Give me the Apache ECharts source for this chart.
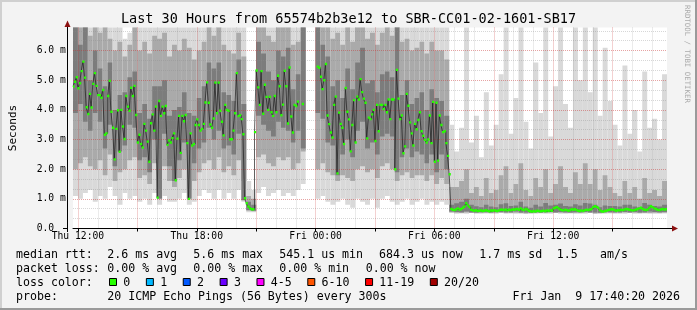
<!DOCTYPE html>
<html><head><meta charset="utf-8">
<script src="https://cdn.jsdelivr.net/npm/echarts@6/dist/echarts.min.js"></script>
<style>html,body{margin:0;padding:0;background:#f3f3f3}#c{width:697px;height:310px}</style>
</head><body><div id="c"></div>
<script>
// ---------------- data ----------------
const titleText = 'Last 30 Hours from 65574b2b3e12 to SBR-CC01-02-1601-SB17';
const startMinute = 705;      // Thu 11:45, minutes since Thu 00:00
const stepMinutes = 5;        // one category per 5 min sample
const stepCount = 360;
const xTickLabels = ['Thu 12:00', 'Thu 18:00', 'Fri 00:00', 'Fri 06:00', 'Fri 12:00'];
const yTickLabels = ['0.0', '1.0 m', '2.0 m', '3.0 m', '4.0 m', '5.0 m', '6.0 m'];
const yMax = 6.78;

// median rtt (ms), one value per 5-minute step
const medianMs = [
 4.79,4.95,5.10,4.73,4.9,5.31,5.63,5.09,4.09,3.86,4.54,4.08,4.88,5.24,4.81,4.5,4.5,4.41,4.67,3.16,
 3.21,4.47,4.98,3.94,3.4,2.33,3.36,3.99,2.59,4.0,3.44,3.02,4.47,4.11,3.97,4.75,4.47,4.81,3.83,2.9,
 3.16,2.85,2.73,3.53,3.3,2.93,2.25,3.55,3.85,3.3,4.11,1.04,4.3,3.8,4.11,3.89,4.13,2.82,2.97,2.9,
 3.05,3.21,1.63,3.03,3.8,2.55,3.8,3.62,3.83,2.88,1.0,3.21,2.8,2.85,3.49,3.68,3.49,3.3,3.36,3.53,
 4.25,4.93,4.24,3.51,3.4,3.71,4.92,3.89,4.92,3.97,3.6,3.14,4.17,4.0,3.97,3.01,3.01,3.3,3.89,5.24,
 3.79,3.82,3.69,3.18,1.02,0.85,0.74,0.68,0.65,0.65,3.25,5.33,4.76,4.17,5.31,3.87,4.85,4.44,4.0,4.44,
 3.92,3.8,4.47,3.92,5.15,4.8,3.82,4.18,5.32,4.8,3.54,5.43,3.78,3.24,4.17,4.13,4.28,
 null,null,4.2,null,null,null,null,null,null,null,null,
 5.46,5.42,5.12,4.7,5.0,5.55,3.81,3.52,3.24,3.07,
 4.17,4.45,1.86,3.91,3.53,3.4,2.85,4.74,3.94,3.68,
 2.6,3.49,4.33,2.9,4.45,4.35,5.04,4.6,4.38,4.24,
 3.04,3.74,3.69,3.85,4.0,2.95,4.17,3.28,4.17,4.17,
 4.03,4.17,3.92,4.35,3.69,4.35,4.35,2.0,5.35,4.38,
 3.69,3.81,2.54,2.77,4.54,4.14,3.58,3.21,2.8,3.53,
 3.35,3.66,3.92,3.28,3.13,2.99,2.9,3.0,3.81,2.88,
 4.27,2.25,4.24,2.29,3.81,3.49,3.25,3.28,2.88,2.45,
 1.83,
 0.66,0.63,0.62,0.65,0.68,0.64,0.66,
 0.70,0.74,0.85,0.78,0.72,
 0.63,0.61,0.60,0.62,0.59,0.60,0.61,
 0.59,0.60,0.62,0.60,0.58,0.61,0.60,0.62,0.60,0.59,0.61,0.63,
 0.63,0.62,0.64,0.61,0.63,0.62,0.64,0.63,
 0.65,0.66,0.63,0.68,0.64,0.62,0.66,0.64,
 0.60,0.58,0.57,0.59,0.57,0.60,0.59,0.58,
 0.59,0.60,0.58,0.61,0.59,0.62,0.60,
 0.68,0.70,0.72,0.68,0.64,
 0.62,0.61,0.63,0.62,0.60,0.62,0.65,0.63,
 0.65,0.62,0.60,0.59,0.61,0.59,0.62,0.63,
 0.62,0.64,0.66,0.72,0.75,0.73,0.70,
 0.62,0.58,0.57,0.59,0.60,0.62,
 0.63,0.65,0.64,0.62,0.60,0.62,0.61,0.63,0.62,
 0.64,0.66,0.65,0.63,0.62,0.61,0.62,
 0.64,0.66,0.68,0.70,0.66,0.63,0.62,
 0.64,0.70,0.75,0.72,0.68,0.66,
 0.63,0.62,0.64,0.66,0.64,0.65
];

// smoke bands (ms), one value per 15-minute block (3 steps)
const outerLow = [
 1.1,1.0,1.2,1.3,0.9,1.1,1.0,1.4,1.1,0.8, 1.2,1.0,1.1,0.9,1.0,0.8,1.2,0.8,1.1,0.9,
 0.9,1.0,1.2,0.8,0.9,1.1,1.3,1.2,1.0,1.3, 1.0,1.2,1.0,1.3,0.9,0.55,0.55,1.2,1.4,1.1,
 1.2,1.3,1.1,1.2,1.1,1.3,1.5, null,null,
 1.0,1.1,0.9,0.8,0.9,1.0,0.8,0.7,1.0,0.9, 0.8,1.0,0.7,1.0,1.1,0.9,0.8,0.9,1.0,0.8, 0.9,1.0,0.8,0.9,0.8,0.9,0.8,
 0.52,
 0.5,0.51,0.5,0.52,0.5,0.5,0.51,0.5,0.5,0.52, 0.5,0.51,0.5,0.5,0.5,0.49,0.5,0.51,0.5,0.5,
 0.52,0.5,0.5,0.51,0.5,0.5,0.5,0.52,0.5,0.49, 0.5,0.51,0.5,0.5,0.5,0.52,0.5,0.5,0.51,0.5, 0.5,0.5,0.51
];
const outerHigh = [
 6.8,6.8,6.8,6.8,6.8,6.8,6.8,6.8,6.8,6.8, 6.4,6.6,6.8,6.8,6.8,6.8,6.8,6.8,6.8,6.8,
 6.8,6.8,6.8,6.8,6.8,6.8,6.8,6.8,6.8,6.8, 6.8,6.8,6.8,6.8,6.8,1.6,1.3,6.8,6.8,6.8,
 6.8,6.8,6.8,6.8,6.8,6.8,6.8, null,null,
 6.8,6.8,6.8,6.8,6.8,6.8,6.8,6.8,6.8,6.8, 6.8,6.8,6.8,6.8,6.8,6.8,6.8,6.8,6.8,6.8, 6.8,6.8,6.8,6.8,6.8,6.8,6.8,
 3.5,
 2.6,3.4,6.8,2.9,3.8,2.4,4.6,2.8,3.5,5.2, 6.8,3.2,4.4,6.8,3.6,2.7,5.6,3.9,6.8,3.1,
 4.8,6.8,4.2,3.4,6.8,5.0,6.8,4.6,6.8,3.8, 6.1,4.3,3.5,2.8,5.5,3.2,4.0,2.6,5.3,3.4, 3.7,3.0,5.2
];
const midLow = [
 2.0,2.2,2.4,2.1,2.0,2.3,1.8,2.5,1.6,1.9, 2.0,2.3,2.4,1.7,1.8,1.5,2.2,1.4,2.1,1.6,
 1.4,1.7,2.0,1.3,1.6,1.9,2.2,2.3,2.0,2.4, 1.9,2.1,1.8,2.3,1.6,0.6,0.58,2.4,2.5,2.2,
 2.1,2.4,2.3,2.4,2.0,2.2,2.6, null,null,
 2.0,2.2,1.9,1.8,1.6,1.8,1.7,1.6,2.0,2.1, 1.9,2.0,1.7,2.1,2.2,2.0,1.6,1.8,1.9,1.7, 1.8,1.8,1.6,1.8,1.5,1.7,1.5,
 0.55,
 0.53,0.52,0.54,0.52,0.52,0.53,0.52,0.52,0.54,0.53, 0.52,0.52,0.53,0.52,0.51,0.52,0.53,0.52,0.52,0.54,
 0.52,0.53,0.52,0.52,0.53,0.52,0.54,0.52,0.51,0.52, 0.53,0.52,0.52,0.52,0.54,0.52,0.53,0.52,0.52,0.52, 0.53,0.52,0.53
];
const midHigh = [
 6.8,6.8,6.8,6.5,6.8,6.6,6.8,6.4,6.0,6.3, 5.8,6.2,6.8,6.0,6.3,5.9,6.5,6.4,6.6,5.8,
 6.2,6.0,6.4,6.1,5.7,6.0,6.3,6.8,6.5,6.8, 6.2,6.0,5.9,6.6,5.8,1.1,1.0,6.8,6.8,6.5,
 6.3,6.8,6.8,6.8,6.2,6.3,6.8, null,null,
 6.8,6.8,6.8,6.4,6.6,6.2,6.8,6.3,6.8,6.8, 6.4,6.6,6.2,6.6,6.8,6.5,6.8,6.3,6.4,6.0, 6.1,6.3,5.9,6.3,6.0,6.0,5.7,
 1.4,
 1.4,1.6,2.0,1.2,1.4,1.1,1.7,1.2,1.3,1.8, 2.1,1.2,1.5,2.2,1.3,1.1,1.7,1.4,2.0,1.2,
 1.5,2.1,1.4,1.2,1.9,1.5,2.2,1.5,2.0,1.3, 1.8,1.4,1.2,1.1,1.6,1.2,1.4,1.0,1.7,1.2, 1.3,1.1,1.6
];
const coreLow = [
 3.9,4.2,3.6,3.3,3.9,3.6,2.7,3.5,2.1,2.6, 2.8,3.5,3.4,2.3,2.4,1.9,3.0,1.0,3.2,2.1,
 1.6,2.3,2.9,1.0,2.2,2.7,2.9,3.4,3.0,3.3, 2.7,2.8,2.5,3.2,0.95,0.62,0.6,3.8,3.5,3.3,
 3.1,3.6,3.4,3.3,2.9,3.3,2.7, null,null,
 3.9,3.7,2.9,2.8,1.8,2.5,3.0,2.4,3.3,3.6, 2.7,2.9,2.5,3.1,3.2,3.1,1.9,2.4,2.7,2.4, 2.6,2.5,2.2,2.5,1.9,2.5,2.0,
 0.57,
 0.56,0.55,0.57,0.55,0.54,0.55,0.56,0.54,0.55,0.56, 0.55,0.55,0.57,0.54,0.54,0.53,0.55,0.54,0.56,0.56,
 0.55,0.56,0.55,0.54,0.55,0.55,0.56,0.55,0.54,0.53, 0.55,0.56,0.55,0.55,0.56,0.55,0.56,0.54,0.55,0.57, 0.56,0.55,0.56
];
const coreHigh = [
 6.8,6.2,6.8,5.0,6.0,5.4,4.8,5.6,4.0,4.5, 4.6,5.1,5.3,3.9,4.2,3.7,4.8,4.8,5.0,3.8,
 4.0,4.1,4.6,3.9,3.8,4.4,4.8,5.6,5.4,5.6, 4.6,4.5,4.3,5.7,4.2,0.9,0.8,6.3,5.9,5.3,
 5.0,6.0,5.8,6.1,4.7,5.2,6.8, null,null,
 6.8,6.2,5.8,4.8,5.0,4.4,5.4,4.7,5.6,6.1, 4.9,5.0,4.6,5.2,5.3,5.1,6.8,4.5,5.0,4.2, 4.4,4.6,4.0,4.7,4.4,4.3,3.8,
 0.8,
 0.85,0.9,1.0,0.8,0.75,0.72,0.8,0.74,0.72,0.82, 0.85,0.76,0.78,0.9,0.74,0.7,0.8,0.74,0.86,0.78,
 0.8,0.84,0.76,0.74,0.82,0.78,0.86,0.84,0.8,0.72, 0.78,0.76,0.76,0.74,0.8,0.8,0.74,0.72,0.86,0.8, 0.76,0.74,0.8
];

// legend text
const statsLine1 = [['median rtt:',16],['2.6 ms avg',107.3],['5.6 ms max',193.3],['545.1 us min',279.3],['684.3 us now',379],['1.7 ms sd',479.3],['1.5',556.7],['am/s',600]];
const statsLine2 = [['packet loss:',16],['0.00 % avg',107.3],['0.00 % max',193.3],['0.00 % min',279.3],['0.00 % now',365.7]];
const lossLabels = ['0','1','2','3','4-5','6-10','11-19','20/20'];
const lossColors = ['#26ff00','#00b8ff','#0059ff','#6a00ff','#ff00ff','#ff5500','#ff0000','#a10000'];
const probeText = '20 ICMP Echo Pings (56 Bytes) every 300s';
const dateText = 'Fri Jan  9 17:40:20 2026';
const watermark = 'RRDTOOL / TOBI OETIKER';

// ---------------- build ----------------
const FONT = '"DejaVu Sans Mono", monospace';
const pad = n => (n < 10 ? '0' : '') + n;
const minuteOf = i => startMinute + i * stepMinutes;
const cats = [];
for (let i = 0; i <= stepCount; i++) {
  const m = minuteOf(i);
  cats.push((m >= 1440 ? 'Fri ' : 'Thu ') + pad(Math.floor((m % 1440) / 60)) + ':' + pad(m % 60));
}
const isHour = i => minuteOf(i) % 60 === 0;
const isThree = i => minuteOf(i) % 180 === 0;

const smokeData = [];
for (let k = 0; k < outerLow.length; k++) {
  if (outerLow[k] == null) continue;
  smokeData.push([k * 3, outerLow[k], outerHigh[k], midLow[k], midHigh[k], coreLow[k], coreHigh[k]]);
}
const medianData = [];
medianMs.forEach((v, j) => { if (v != null) medianData.push([j, v]); });

const smokeColors = ['#d9d9d9', '#aaaaaa', '#7c7c7c'];
const gridGray = 'rgba(140,140,140,0.35)';
const gridRed = 'rgba(200,50,50,0.45)';

const graphics = [];
// frame
graphics.push({type:'rect', shape:{x:0,y:0,width:697,height:2}, style:{fill:'#d0d0d0'}, z:100});
graphics.push({type:'rect', shape:{x:0,y:0,width:2,height:310}, style:{fill:'#d0d0d0'}, z:100});
graphics.push({type:'rect', shape:{x:0,y:308,width:697,height:2}, style:{fill:'#9a9a9a'}, z:100});
graphics.push({type:'rect', shape:{x:695,y:0,width:2,height:310}, style:{fill:'#9a9a9a'}, z:100});
// title
graphics.push({type:'text', x:348.5, y:19.5, style:{text:titleText, fontFamily:FONT, fontSize:13.5, fill:'#000', align:'center', verticalAlign:'middle'}, z:100});
// watermark
graphics.push({type:'text', x:687, y:5, rotation:-Math.PI/2, style:{text:watermark, fontFamily:FONT, fontSize:7.4, fill:'#ababab', align:'left', verticalAlign:'middle'}, z:100});
// axis lines, extensions and arrows
graphics.push({type:'line', shape:{x1:63,y1:228.5,x2:67,y2:228.5}, style:{stroke:'#000',lineWidth:1}, z:100});
graphics.push({type:'line', shape:{x1:667,y1:228.5,x2:673,y2:228.5}, style:{stroke:'#000',lineWidth:1}, z:100});
graphics.push({type:'line', shape:{x1:67.5,y1:232,x2:67.5,y2:24}, style:{stroke:'#000',lineWidth:1}, z:100});
graphics.push({type:'polygon', shape:{points:[[672,225.5],[678,228.5],[672,231.5]]}, style:{fill:'#8b1010'}, z:100});
graphics.push({type:'polygon', shape:{points:[[64.5,27],[67.5,20.5],[70.5,27]]}, style:{fill:'#8b1010'}, z:100});
// legend
const txt = (s, x, y, align) => ({type:'text', x, y, style:{text:s, fontFamily:FONT, fontSize:11.6, fill:'#000', align:align || 'left', verticalAlign:'middle'}, z:100});
statsLine1.forEach(([s, x]) => graphics.push(txt(s, x, 254.5)));
statsLine2.forEach(([s, x]) => graphics.push(txt(s, x, 268.5)));
graphics.push(txt('loss color:', 16, 282.5));
let lx = 109;
lossLabels.forEach((lab, i) => {
  graphics.push({type:'rect', shape:{x:lx + 0.5, y:278.5, width:7, height:7}, style:{fill:lossColors[i], stroke:'#000', lineWidth:1}, z:100});
  graphics.push(txt(lab, lx + 14.3, 282.5));
  lx += 14.3 + lab.length * 6.97 + 15.6;
});
graphics.push(txt('probe:', 16, 296.5));
graphics.push(txt(probeText, 107.3, 296.5));
graphics.push(txt(dateText, 680, 296.5, 'right'));

const chart = echarts.init(document.getElementById('c'), null, {renderer:'canvas', width:697, height:310});
chart.setOption({
  animation: false,
  backgroundColor: '#f3f3f3',
  grid: {left:67, top:27.5, width:600, height:201, show:true, backgroundColor:'#ffffff', borderWidth:0},
  xAxis: [
    {type:'category', data:cats, boundaryGap:false, z:3,
     axisLine:{show:true, onZero:false, lineStyle:{color:'#000'}},
     axisTick:{show:true, interval:(i) => isThree(i), length:3, lineStyle:{color:'#000'}},
     axisLabel:{interval:(i, v) => xTickLabels.includes(v), fontFamily:FONT, fontSize:9.7, color:'#000', margin:3},
     splitLine:{show:true, interval:(i) => isHour(i) && !isThree(i), lineStyle:{color:gridGray, type:[1,1], width:1}}},
    {type:'category', data:cats, boundaryGap:false, z:3, position:'top',
     axisLine:{show:false}, axisTick:{show:false}, axisLabel:{show:false},
     splitLine:{show:true, interval:(i) => isThree(i), lineStyle:{color:gridRed, type:[1,1], width:1}}}
  ],
  yAxis: [
    {type:'value', min:0, max:yMax, interval:1, z:3,
     name:'Seconds', nameLocation:'middle', nameGap:54, nameTextStyle:{fontFamily:FONT, fontSize:11, color:'#000'},
     axisLine:{show:false, onZero:false}, axisTick:{show:false},
     axisLabel:{formatter:(v) => Number.isInteger(v) ? yTickLabels[v] : '', align:'left', margin:36.3, fontFamily:FONT, fontSize:9.7, color:'#000'},
     splitLine:{show:true, showMinLine:false, showMaxLine:false, lineStyle:{color:gridRed, type:[1,1], width:1}}},
    {type:'value', min:0, max:yMax, interval:1/3, z:3, position:'left',
     axisLine:{show:false, onZero:false}, axisTick:{show:false}, axisLabel:{show:false},
     splitLine:{show:true, showMinLine:false, showMaxLine:false, lineStyle:{color:[gridGray, gridGray, 'rgba(0,0,0,0)'], type:[1,1], width:1}}}
  ],
  series: [
    {type:'custom', xAxisIndex:0, yAxisIndex:0, clip:true, z:2, silent:true, data:smokeData, encode:{x:0, y:1},
     renderItem: (params, api) => {
       const k3 = api.value(0);
       const xa = api.coord([k3, 0])[0], xb = api.coord([k3 + 3, 0])[0];
       const children = [];
       [[1,2],[3,4],[5,6]].forEach(([a, b], n) => {
         const ya = api.coord([k3, api.value(a)])[1];
         const yb = api.coord([k3, api.value(b)])[1];
         children.push({type:'rect', shape:{x:xa, y:yb, width:xb - xa, height:ya - yb}, style:{fill:smokeColors[n]}});
       });
       return {type:'group', children};
     }},
    {type:'line', xAxisIndex:0, yAxisIndex:0, z:3, silent:true, data:medianMs, step:'end', showSymbol:false, connectNulls:false,
     lineStyle:{color:'rgba(30,30,30,0.7)', width:1}},
    {type:'custom', xAxisIndex:0, yAxisIndex:0, clip:true, z:5, silent:true, data:medianData, encode:{x:0, y:1},
     renderItem: (params, api) => {
       const j = api.value(0), v = api.value(1);
       const p0 = api.coord([j, v]);
       return {type:'rect', shape:{x:p0[0] - 0.6, y:p0[1] - 1.2, width:2.2, height:2.4}, style:{fill:'#26ff00'}};
     }}
  ],
  graphic: graphics
});
</script>
</body></html>
